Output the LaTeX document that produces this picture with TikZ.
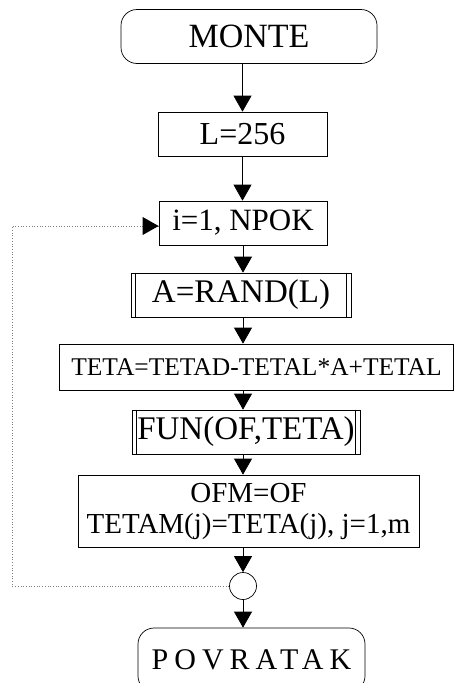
\documentclass[tikz,border=0pt]{standalone}
\usepackage{fontspec}
\setmainfont{Liberation Serif}
\usetikzlibrary{arrows.meta}
\begin{document}
\begin{tikzpicture}[x=1pt,y=-1pt,
  box/.style={draw, line width=0.7pt, inner sep=0pt, align=center},
  term/.style={box, rounded corners=16pt},
  arr/.style={line width=0.7pt, -{Triangle[width=18pt,length=16pt]}},
  loopline/.style={gray, dotted, line width=0.7pt}]
\useasboundingbox (0,0) rectangle (454,683);
\node[term, minimum width=256pt, minimum height=54pt, font=\fontsize{34}{36}\selectfont] (monte) at (249,36.5) {MONTE};
\node[box, minimum width=169pt, minimum height=44pt, font=\fontsize{32}{34}\selectfont] (l) at (242.5,134) {L=256};
\node[box, minimum width=168pt, minimum height=44pt, font=\fontsize{31}{33}\selectfont] (i) at (243,223) {i=1, NPOK};
\node[box, minimum width=220pt, minimum height=44pt, font=\fontsize{33}{35}\selectfont] (a) at (241,295) {A=RAND(L)};
\node[box, minimum width=394pt, minimum height=46pt, font=\fontsize{25.5}{27}\selectfont] (teta) at (256.5,367) {TETA=TETAD-TETAL*A+TETAL};
\node[box, minimum width=228pt, minimum height=44pt, font=\fontsize{33}{35}\selectfont] (fun) at (246,432) {FUN(OF,TETA)};
\node[box, minimum width=341pt, minimum height=72pt, font=\fontsize{29}{31}\selectfont] (ofm) at (248.5,511) {OFM=OF\\TETAM(j)=TETA(j), j=1,m};
\node[draw, circle, line width=0.7pt, minimum size=27pt, inner sep=0pt] (c) at (243,586) {};
\node[term, minimum width=227pt, minimum height=64pt, font=\fontsize{30}{32}\selectfont\addfontfeature{LetterSpace=20}] (pov) at (251.5,660) {POVRATAK};
% inner lines of the subroutine boxes
\foreach \n in {a,fun}{
  \draw[line width=0.7pt] ([xshift=5pt]\n.north west) -- ([xshift=5pt]\n.south west);
  \draw[line width=0.7pt] ([xshift=-5pt]\n.north east) -- ([xshift=-5pt]\n.south east);
}
\coordinate (sp) at (243,0);
\draw[arr] (monte.south -| l.north) -- (l.north);
\draw[arr] (l.south) -- (l.south |- i.north);
\draw[arr] (i.south) -- (i.south |- a.north);
\draw[arr] (a.south -| sp) -- (teta.north -| sp);
\draw[arr] (teta.south -| sp) -- (fun.north -| sp);
\draw[arr] (fun.south -| sp) -- (ofm.north -| sp);
\draw[arr] (ofm.south -| c.north) -- (c.north);
\draw[arr] (c.south) -- (c.south |- pov.north);
\coordinate (lb) at (12,586);
\coordinate (lt) at (12,226);
\draw[loopline] (c.west) -- (lb) -- (lt) -- (lt -| i.west);
\draw[arr, line width=0pt, draw opacity=0] ([xshift=-16pt]i.west |- lt) -- (i.west |- lt);
\end{tikzpicture}
\end{document}
